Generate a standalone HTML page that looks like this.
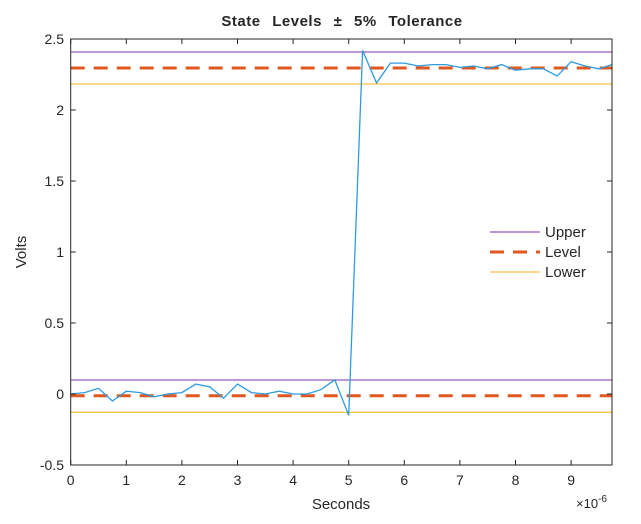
<!DOCTYPE html>
<html><head><style>body{margin:0;background:#fff}svg{display:block}</style></head><body>
<svg width="641" height="524" xmlns="http://www.w3.org/2000/svg" font-family="Liberation Sans, Arial, sans-serif">
<rect width="641" height="524" fill="#fff"/>
<g stroke-width="1.3">
<line x1="70.7" y1="52" x2="612" y2="52" stroke="#9b59b6"/>
<line x1="70.7" y1="84" x2="612" y2="84" stroke="#f6c243"/>
<line x1="70.7" y1="380" x2="612" y2="380" stroke="#9b59b6"/>
<line x1="70.7" y1="412.3" x2="612" y2="412.3" stroke="#f6c243"/>
</g>
<g stroke="#e0581f" stroke-width="3" stroke-dasharray="14,9">
<line x1="70.7" y1="68" x2="612" y2="68"/>
<line x1="70.7" y1="395.7" x2="612" y2="395.7"/>
</g>
<polyline fill="none" stroke="#2f9ae0" stroke-width="1.3" points="70.7,394 84.6,392.6 98.5,388.3 112.4,401.1 126.3,391.2 140.2,392.6 154.1,396.8 168,394 181.9,392.6 195.8,384.1 209.7,386.9 223.6,398.3 237.5,384.1 251.4,392.6 265.3,394 279.2,391.2 293.1,394 307,394 320.9,389.7 334.8,379.8 348.7,415.3 362.6,50.4 376.5,83 390.4,63.1 404.3,63.1 418.2,66 432.1,64.6 446,64.6 459.9,67.4 473.8,66 487.7,68.8 501.6,64.6 515.5,70.2 529.4,68.8 543.3,68.8 557.2,75.9 571.1,61.7 585,66 598.9,68.8 612,64.6"/>
<rect x="70.7" y="39" width="541.3" height="426" fill="none" stroke="#262626" stroke-width="1"/>
<g stroke="#262626" stroke-width="1">
<path d="M70.7 465v-5M126.3 465v-5M181.9 465v-5M237.5 465v-5M293.1 465v-5M348.7 465v-5M404.3 465v-5M459.9 465v-5M515.5 465v-5M571.1 465v-5"/>
<path d="M70.7 39v5M126.3 39v5M181.9 39v5M237.5 39v5M293.1 39v5M348.7 39v5M404.3 39v5M459.9 39v5M515.5 39v5M571.1 39v5"/>
<path d="M70.7 39h5M70.7 110h5M70.7 181h5M70.7 252h5M70.7 323h5M70.7 394h5M70.7 465h5"/>
<path d="M612 39h-5M612 110h-5M612 181h-5M612 252h-5M612 323h-5M612 394h-5M612 465h-5"/>
</g>
<g font-size="14" fill="#262626" text-anchor="end">
<text x="64" y="44">2.5</text><text x="64" y="115">2</text><text x="64" y="186">1.5</text><text x="64" y="257">1</text><text x="64" y="328">0.5</text><text x="64" y="399">0</text><text x="64" y="470">-0.5</text>
</g>
<g font-size="14" fill="#262626" text-anchor="middle">
<text x="70.7" y="485">0</text><text x="126.3" y="485">1</text><text x="181.9" y="485">2</text><text x="237.5" y="485">3</text><text x="293.1" y="485">4</text><text x="348.7" y="485">5</text><text x="404.3" y="485">6</text><text x="459.9" y="485">7</text><text x="515.5" y="485">8</text><text x="571.1" y="485">9</text>
<text x="341" y="509" font-size="15">Seconds</text>
<text x="342" y="26" font-size="15" font-weight="bold" letter-spacing="0.5" word-spacing="7">State Levels ± 5% Tolerance</text>
</g>
<text x="576" y="508" font-size="13" fill="#262626">×10<tspan font-size="10" dy="-6">-6</tspan></text>
<text x="26" y="252" font-size="15" fill="#262626" text-anchor="middle" transform="rotate(-90 26 252)">Volts</text>
<line x1="490" y1="232" x2="540" y2="232" stroke="#9b59b6" stroke-width="1.3"/>
<line x1="490" y1="252" x2="540" y2="252" stroke="#e0581f" stroke-width="3" stroke-dasharray="14,9"/>
<line x1="490" y1="272" x2="540" y2="272" stroke="#f6c243" stroke-width="1.3"/>
<g font-size="15" fill="#262626">
<text x="545" y="237">Upper</text><text x="545" y="257">Level</text><text x="545" y="277">Lower</text>
</g>
</svg>
</body></html>
